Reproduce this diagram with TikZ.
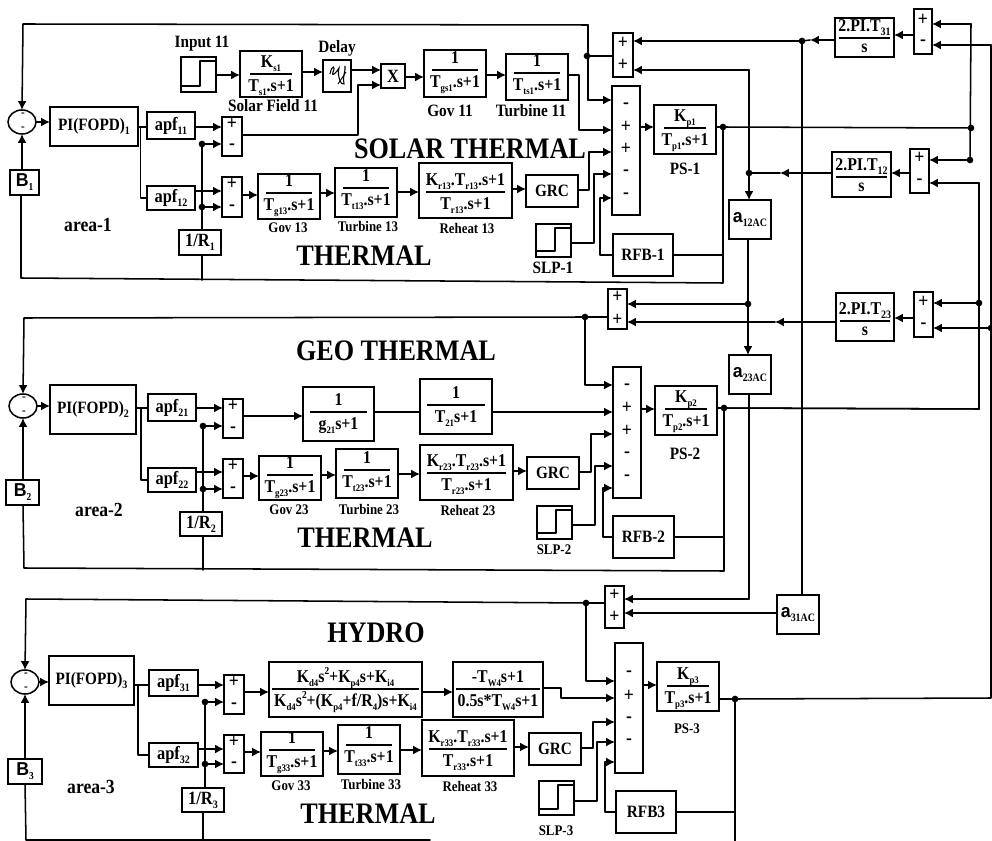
\documentclass[tikz,border=0pt]{standalone}
\usepackage{fontspec}
\setmainfont[FakeStretch=0.88]{Liberation Serif}
\newfontfamily\sansb[FakeStretch=0.95]{Liberation Sans}
\usetikzlibrary{arrows.meta,calc,shapes.geometric}
\newcommand\fsz[1]{\fontsize{#1}{#1}\selectfont}
\newcommand\lo[2][7.5]{\lower.22em\hbox{\fsz{#1}#2}}
\newcommand\hi[1]{\raise.42em\hbox{\fsz{8}#1}}
\tikzset{
  wire/.style={line width=1.15pt,line cap=round,line join=round},
  arr/.style={wire,-{Latex[length=6.6pt,width=6.6pt]}},
  blk/.style={draw,line width=1.15pt,rectangle,inner sep=0pt,outer sep=0pt,fill=white,align=center,font=\bfseries\fsz{13}},
  ftxt/.style={inner sep=0pt,outer sep=0pt,font=\bfseries\fsz{13.5}},
  sgn/.style={inner sep=0pt,outer sep=0pt,font=\bfseries\fsz{15}},
  csgn/.style={inner sep=0pt,outer sep=0pt,font=\bfseries\fsz{9.5}},
  lab/.style={inner sep=0pt,outer sep=0pt,font=\bfseries\fsz{11}},
  labb/.style={inner sep=0pt,outer sep=0pt,font=\bfseries\fsz{13}},
  area/.style={inner sep=0pt,outer sep=0pt,font=\bfseries\fsz{15}},
  head/.style={inner sep=0pt,outer sep=0pt,font=\bfseries\fsz{22.3}},
  dot/.style={circle,fill=black,inner sep=0pt,minimum size=5pt,outer sep=0pt},
  sumc/.style={draw,ellipse,line width=1.15pt,inner sep=0pt,outer sep=0pt,minimum width=21pt,minimum height=18pt},
}
% name x1 y1 x2 y2 text
\newcommand\bx[6]{\node[blk,minimum width={(#4-#2)*0.75pt},minimum height={(#5-#3)*0.75pt}] (#1) at ({(#2+#4)/2},{(#3+#5)/2}) {#6};}
% [inset] name x1 y1 x2 y2 ruley num den
\newcommand\fr[8][8]{\node[blk,minimum width={(#5-#3)*0.75pt},minimum height={(#6-#4)*0.75pt}] (#2) at ({(#3+#5)/2},{(#4+#6)/2}) {};
  \draw[line width=1.15pt] ({#3+#1},#7) -- ({#5-#1},#7);
  \node[ftxt,anchor=base] (#2n) at ({(#3+#5)/2},{#7-6.5}) {#8};
  \frden{#2}{#3}{#5}{#7}}
\newcommand\frden[5]{\node[ftxt,anchor=base] (#1d) at ({(#2+#3)/2},{#4+17.5}) {#5};}
% name x1 y1 x2 y2 {y/sign,...}
\newcommand\sg[6]{\node[blk,minimum width={(#4-#2)*0.75pt},minimum height={(#5-#3)*0.75pt}] (#1) at ({(#2+#4)/2},{(#3+#5)/2}) {};
  \foreach \yy/\ss in {#6} {\node[sgn] (#1s\yy) at ({(#2+#4)/2},\yy) {\ss};}}
% name x1 y1 x2 y2
\newcommand\stp[5]{\node[blk,minimum width={(#4-#2)*0.75pt},minimum height={(#5-#3)*0.75pt}] (#1) at ({(#2+#4)/2},{(#3+#5)/2}) {};
  \draw[line width=1.15pt,line join=round] (#2,{#5-6}) -| ({#2+19},{#3+4}) -- (#4,{#3+4});}
\begin{document}
\begin{tikzpicture}[x=0.75pt,y=-0.75pt]
\useasboundingbox (0,0) rectangle (992,841);
%%%%%%%%%% headings
\node[head] (hsolar) at (470,149) {SOLAR THERMAL};
\node[head] (hth1) at (364,256) {THERMAL};
\node[head] (hgeo) at (396,351) {GEO THERMAL};
\node[head] (hth2) at (365,538) {THERMAL};
\node[head] (hhyd) at (376,633) {HYDRO};
\node[head] (hth3) at (368,814) {THERMAL};
\node[area] (a1) at (88,225) {area-1};
\node[area] (a2) at (99,510) {area-2};
\node[area] (a3) at (91,787) {area-3};
%%%%%%%%%% AREA 1
\node[sumc] (c1) at (22,122) {};
\node[csgn] (c1a) at (23,115) {-};
\node[csgn] (c1b) at (23,129) {-};
\bx{B1}{10}{170}{39}{195}{\sansb\fsz{14}B\lo[8]{\rmfamily 1}}
\bx{PI1}{50}{107}{138}{146}{PI(FOPD)\lo[8.5]{1}}
\bx{apf11}{147}{112}{195}{139}{\fsz{14}apf\lo[8.5]{11}}
\bx{apf12}{147}{186}{195}{210}{\fsz{14}apf\lo[8.5]{12}}
\sg{s11}{222}{117}{242}{156}{124/+,147/-}
\sg{s12}{222}{177}{242}{217}{184/+,208/-}
\bx{R1}{179}{230}{221}{255}{\fsz{14}1/R\lo[8.5]{1}}
\stp{in11}{181}{57}{216}{92}
\node[labb] (lin11) at (202,44) {Input 11};
\fr[10]{sf11}{240}{51}{302}{97}{74}{K\lo{s1}}{T\lo{s1}.s+1}
\node[labb] (lsf) at (273,106) {Solar Field 11};
\bx{dly}{323}{60}{351}{92}{}
\draw[line width=.8pt] (330,74) .. controls (332,64) and (336,66) .. (333,72) .. controls (331,78) and (337,72) .. (339,68) .. controls (337,76) and (341,86) .. (344,84) .. controls (342,78) and (346,70) .. (345,66);
\draw[line width=.7pt] (338,84) -- (346,72);
\node[labb] (ldly) at (337,48) {Delay};
\bx{X1}{381}{64}{405}{88}{\fsz{14}X}
\fr{g11}{424}{50}{486}{97}{70}{1}{T\lo{gs1}.s+1}
\node[labb] (lg11) at (450,111) {Gov 11};
\fr{t11}{506}{54}{568}{100}{73}{1}{T\lo{ts1}.s+1}
\node[labb] (lt11) at (531,111) {Turbine 11};
\fr{g13}{258}{174}{320}{219}{193}{1}{T\lo{g13}.s+1}
\node[lab] (lg13) at (288,228) {Gov 13};
\fr{t13}{335}{168}{397}{217}{188}{1}{T\lo{t13}.s+1}
\node[lab] (lt13) at (368,227) {Turbine 13};
\fr[7]{r13}{419}{163}{512}{218}{192}{K\lo{r13}.T\lo{r13}.s+1}{T\lo{r13}.s+1}
\node[lab] (lr13) at (467,228) {Reheat 13};
\bx{grc1}{526}{175}{578}{207}{GRC}
\stp{slp1}{536}{224}{571}{257}
\node[labb] (lslp1) at (553,268) {SLP-1};
\bx{rfb1}{613}{234}{673}{276}{RFB-1}
\sg{m1}{612}{86}{640}{215}{106/-,127/+,149/+,173/-,196/-}
\fr[10]{ps1}{654}{105}{716}{154}{128}{K\lo{p1}}{T\lo{p1}.s+1}
\node[labb] (lps1) at (685,169) {PS-1};
\sg{pp1}{613}{33}{633}{77}{43/+,65/+}
\fr[4]{tie31}{835}{18}{894}{57}{38}{2.PI.T\lo[8.5]{31}}{\raise2.5pt\hbox{s}}
\sg{s31}{914}{9}{932}{54}{20/+,43/-}
\fr[4]{tie12}{832}{152}{891}{197}{177}{2.PI.T\lo[8.5]{12}}{\raise2.5pt\hbox{s}}
\sg{s1t}{910}{149}{929}{193}{158/+,182/-}
\bx{a12}{729}{200}{771}{239}{{\sansb\fsz{14}a}\lo[8.5]{12AC}}
%%%%%%%%%% AREA 2
\node[sumc] (c2) at (23,406) {};
\node[csgn] (c2a) at (24,399) {-};
\node[csgn] (c2b) at (24,413) {-};
\bx{B2}{6}{480}{39}{505}{\sansb\fsz{14}B\lo[8]{\rmfamily 2}}
\bx{PI2}{50}{385}{136}{434}{PI(FOPD)\lo[8.5]{2}}
\bx{apf21}{148}{394}{196}{421}{\fsz{14}apf\lo[8.5]{21}}
\bx{apf22}{148}{468}{196}{492}{\fsz{14}apf\lo[8.5]{22}}
\sg{s21}{223}{399}{243}{438}{406/+,430/-}
\sg{s22}{223}{459}{243}{498}{466/+,490/-}
\bx{R2}{180}{512}{222}{536}{\fsz{14}1/R\lo[8.5]{2}}
\fr[7]{g21}{303}{387}{374}{441}{412}{1}{g\lo{21}s+1}
\fr[7]{t21}{420}{379}{492}{434}{405}{1}{T\lo{21}s+1}
\fr{g23}{259}{456}{321}{500}{475}{1}{T\lo{g23}.s+1}
\node[lab] (lg23) at (289,510) {Gov 23};
\fr{t23}{336}{449}{398}{498}{470}{1}{T\lo{t23}.s+1}
\node[lab] (lt23) at (369,509) {Turbine 23};
\fr[7]{r23}{420}{445}{513}{500}{473}{K\lo{r23}.T\lo{r23}.s+1}{T\lo{r23}.s+1}
\node[lab] (lr23) at (468,510) {Reheat 23};
\bx{grc2}{527}{457}{579}{489}{GRC}
\stp{slp2}{537}{506}{572}{539}
\node[lab] (lslp2) at (554,550) {SLP-2};
\bx{rfb2}{613}{516}{674}{558}{RFB-2}
\sg{m2}{613}{367}{641}{498}{387/-,408/+,431/+,455/-,478/-}
\fr[10]{ps2}{655}{386}{717}{435}{409}{K\lo{p2}}{T\lo{p2}.s+1}
\node[labb] (lps2) at (685,454) {PS-2};
\sg{pp2}{608}{289}{627}{329}{297/+,320/+}
\fr[4]{tie23}{836}{293}{894}{341}{321}{2.PI.T\lo[8.5]{23}}{\raise2.5pt\hbox{s}}
\sg{s23}{914}{292}{933}{337}{302/+,326/-}
\bx{a23}{729}{355}{771}{394}{{\sansb\fsz{14}a}\lo[8.5]{23AC}}
%%%%%%%%%% AREA 3
\node[sumc] (c3) at (25,682) {};
\node[csgn] (c3a) at (26,675) {-};
\node[csgn] (c3b) at (26,689) {-};
\bx{B3}{8}{759}{42}{784}{\sansb\fsz{14}B\lo[8]{\rmfamily 3}}
\bx{PI3}{49}{656}{134}{705}{PI(FOPD)\lo[8.5]{3}}
\bx{apf31}{149}{670}{198}{696}{\fsz{14}apf\lo[8.5]{31}}
\bx{apf32}{149}{743}{198}{767}{\fsz{14}apf\lo[8.5]{32}}
\sg{s31a}{224}{675}{244}{714}{682/+,706/-}
\sg{s32}{224}{735}{244}{773}{742/+,765/-}
\bx{R3}{182}{788}{224}{812}{\fsz{14}1/R\lo[8.5]{3}}
\fr[3]{pid}{269}{662}{422}{717}{689}{K\lo{d4}s\hi{2}+K\lo{p4}s+K\lo{i4}}{K\lo{d4}s\hi{2}+(K\lo{p4}+f/R\lo{4})s+K\lo{i4}}
\fr[3]{hyd}{453}{662}{543}{717}{689}{-T\lo{W4}s+1}{0.5s*T\lo{W4}s+1}
\fr{g33}{261}{732}{323}{776}{750}{1}{T\lo{g33}.s+1}
\node[lab] (lg33) at (291,786) {Gov 33};
\fr{t33}{338}{725}{400}{774}{745}{1}{T\lo{t33}.s+1}
\node[lab] (lt33) at (371,784) {Turbine 33};
\fr[7]{r33}{422}{720}{514}{776}{749}{K\lo{r33}.T\lo{r33}.s+1}{T\lo{r33}.s+1}
\node[lab] (lr33) at (470,786) {Reheat 33};
\bx{grc3}{529}{733}{581}{765}{GRC}
\stp{slp3}{539}{781}{574}{815}
\node[lab] (lslp3) at (556,831) {SLP-3};
\bx{rfb3}{616}{791}{676}{833}{RFB3}
\sg{m3}{615}{643}{643}{773}{674/-,696/+,720/-,742/-}
\fr[10]{ps3}{657}{662}{719}{711}{686}{K\lo{p3}}{T\lo{p3}.s+1}
\node[lab] (lps3) at (687,729) {PS-3};
\sg{pp3}{605}{586}{624}{628}{595/+,617/+}
\bx{a31}{777}{595}{819}{634}{{\sansb\fsz{14}a}\lo[8.5]{31AC}}
%%%%%%%%%% junctions
\foreach \n/\x/\y in {j1/202/144,j2/202/207,j3/587/56,j4/802/41,j5/749/173,j6/723/127,j7/971/128,j8/970/160,
  j9/979/303,j10/748/304,j11/585/317,j12/724/408,j13/991/328,j14/203/426,j15/203/489,
  j16/205/702,j17/205/764,j18/586/603,j19/735/699}
  {\node[dot] (\n) at (\x,\y) {};}
%%%%%%%%%% free ends
\coordinate (k1) at (140.5,127);
\coordinate (k2) at (141,408);
\coordinate (k3) at (138,685);
%%%%%%%%%% AREA 1 wires
\draw[arr] (588,100) -- (m1.west |- 0,100);
\draw[wire] (j3) -- (pp1.west |- j3);
\draw[wire] (588,100) -- (588,25);
\draw[arr] (588,25) -- (23,24) -- (c1.north);
\draw[arr] (c1.east) -- (PI1.west |- c1.east);
\draw[arr] (B1.north -| c1.south) -- (c1.south);
\draw[wire] (B1.south -| 21,0) -- (21,278) -- (723,283) -- (j6);
\draw[wire] (PI1.east |- k1) -- (apf11.west |- k1);
\draw[wire] (k1) -- (k1 |- apf12.west) -- (apf12.west);
\draw[arr] (apf11.east |- 0,127) -- (s11.west |- 0,127);
\draw[arr] (apf12.east |- 0,191) -- (s12.west |- 0,191);
\draw[arr] (j1) -- (s11.west |- j1);
\draw[arr] (j2) -- (s12.west |- j2);
\draw[wire] (j1) -- (R1.north -| j1);
\draw[wire] (R1.south -| j1) -- (202,280);
\draw[arr] (in11.east |- 0,75) -- (sf11.west |- 0,75);
\draw[arr] (sf11.east |- 0,72) -- (dly.west |- 0,72);
\draw[arr] (dly.east |- 0,70) -- (X1.west |- 0,70);
\draw[arr] (s11.east |- 0,135) -- (358,135) -- (358,85) -- (X1.west |- 0,85);
\draw[arr] (X1.east |- 0,77) -- (g11.west |- 0,77);
\draw[arr] (g11.east |- 0,75) -- (t11.west |- 0,75);
\draw[arr] (t11.east |- 0,75) -- (579,75) -- (579,130) -- (m1.west |- 0,130);
\draw[arr] (s12.east |- 0,195) -- (g13.west |- 0,195);
\draw[arr] (g13.east |- 0,193) -- (t13.west |- 0,193);
\draw[arr] (t13.east |- 0,192) -- (r13.west |- 0,192);
\draw[arr] (r13.east |- 0,189) -- (grc1.west |- 0,189);
\draw[arr] (grc1.east |- 0,190) -- (589,190) -- (589,152) -- (m1.west |- 0,152);
\draw[arr] (slp1.east |- 0,243) -- (594,243) -- (594,174) -- (m1.west |- 0,174);
\draw[arr] (rfb1.west) -- (600,255) -- (600,198) -- (m1.west |- 0,198);
\draw[wire] (rfb1.east) -- (723,255);
\draw[arr] (m1.east |- 0,127) -- (ps1.west |- 0,127);
\draw[wire] (ps1.east |- j6) -- (j6) -- (j7);
%% ties
\coordinate (t31m) at (810,40);
\draw[arr] (tie31.west |- t31m) -- (t31m);
\draw[wire] (t31m) -- (j4);
\draw[arr] (j4) -- (pp1.east |- j4);
\draw[arr] (s31.west |- 0,35) -- (tie31.east |- 0,35);
\draw[arr] (j7 |- 0,24) -- (s31.east |- 0,24);
\draw[wire] (j7 |- 0,24) -- (j8);
\draw[arr] (991,45) -- (s31.east |- 0,45);
\draw[arr] (j8) -- (s1t.east |- j8);
\draw[arr] (979,183) -- (s1t.east |- 0,183);
\draw[wire] (979,183) -- (979,409) -- (j12);
\draw[arr] (s1t.west |- 0,173) -- (tie12.east |- 0,173);
\coordinate (t12m) at (780,173);
\draw[arr] (tie12.west |- j5) -- (t12m);
\draw[wire] (t12m) -- (j5);
\draw[arr] (j5) -- (a12.north -| j5);
\draw[wire] (j5) -- (749,70);
\draw[arr] (749,70) -- (pp1.east |- 0,70);
\draw[wire] (a12.south -| j10) -- (j10);
\draw[arr] (j10) -- (a23.north -| j10);
\draw[wire] (j4) -- (a31.north -| j4);
%%%%%%%%%% AREA 2 wires
\draw[arr] (j10) -- (pp2.east |- j10);
\coordinate (t23m) at (775,322);
\draw[arr] (tie23.west |- t23m) -- (t23m);
\draw[arr] (t23m) -- (pp2.east |- t23m);
\draw[arr] (s23.west |- 0,318) -- (tie23.east |- 0,318);
\draw[arr] (j9) -- (s23.east |- j9);
\draw[arr] (j13) -- (s23.east |- j13);
\draw[wire] (pp2.west |- j11) -- (j11);
\draw[arr] (j11) -- (24,318) -- (c2.north);
\draw[arr] (j11) -- (585,385) -- (m2.west |- 0,385);
\draw[arr] (c2.east) -- (PI2.west |- c2.east);
\draw[arr] (B2.north -| c2.south) -- (c2.south);
\draw[wire] (B2.south -| c2.south) -- (24,568) -- (724,571) -- (j12);
\draw[wire] (PI2.east |- k2) -- (apf21.west |- k2);
\draw[wire] (k2) -- (k2 |- apf22.west) -- (apf22.west);
\draw[arr] (apf21.east |- 0,408) -- (s21.west |- 0,408);
\draw[arr] (j14) -- (s21.west |- j14);
\draw[arr] (apf22.east |- 0,472) -- (s22.west |- 0,472);
\draw[arr] (j15) -- (s22.west |- j15);
\draw[wire] (j14) -- (R2.north -| j14);
\draw[wire] (R2.south -| j14) -- (203,570);
\draw[arr] (s21.east |- 0,416) -- (g21.west |- 0,416);
\draw[wire] (g21.east |- 0,412) -- (t21.west |- 0,412);
\draw[arr] (t21.east |- 0,412) -- (m2.west |- 0,412);
\draw[arr] (s22.east |- 0,476) -- (g23.west |- 0,476);
\draw[arr] (g23.east |- 0,475) -- (t23.west |- 0,475);
\draw[arr] (t23.east |- 0,474) -- (r23.west |- 0,474);
\draw[arr] (r23.east |- 0,471) -- (grc2.west |- 0,471);
\draw[arr] (grc2.east |- 0,472) -- (591,472) -- (591,434) -- (m2.west |- 0,434);
\draw[arr] (slp2.east |- 0,525) -- (595,525) -- (595,466) -- (m2.west |- 0,466);
\draw[arr] (rfb2.west) -- (603,537) -- (603,488) -- (m2.west |- 0,488);
\draw[wire] (rfb2.east) -- (724,537);
\draw[arr] (m2.east |- 0,409) -- (ps2.west |- 0,409);
\draw[wire] (ps2.east |- j12) -- (j12) -- (979,409);
%%%%%%%%%% AREA 3 wires
\draw[wire] (a23.south -| 749,0) -- (749,599);
\draw[arr] (749,599) -- (pp3.east |- 0,599);
\draw[arr] (a31.west |- 0,613) -- (pp3.east |- 0,613);
\draw[wire] (pp3.west |- j18) -- (j18);
\draw[arr] (j18) -- (26,599) -- (c3.north);
\draw[arr] (j18) -- (586,681) -- (m3.west |- 0,681);
\draw[arr] (c3.east) -- (PI3.west |- c3.east);
\draw[arr] (B3.north -| c3.south) -- (c3.south);
\draw[wire] (B3.south -| c3.south) -- (26,840) -- (430,840);
\draw[wire] (PI3.east |- k3) -- (apf31.west |- k3);
\draw[wire] (k3) -- (k3 |- apf32.west) -- (apf32.west);
\draw[arr] (apf31.east |- 0,685) -- (s31a.west |- 0,685);
\draw[arr] (j16) -- (s31a.west |- j16);
\draw[arr] (apf32.east |- 0,749) -- (s32.west |- 0,749);
\draw[arr] (j17) -- (s32.west |- j17);
\draw[wire] (j16) -- (R3.north -| j16);
\draw[wire] (R3.south -| 203,0) -- (203,840);
\draw[arr] (s31a.east |- 0,692) -- (pid.west |- 0,692);
\draw[arr] (pid.east |- 0,692) -- (hyd.west |- 0,692);
\draw[arr] (hyd.east |- 0,688) -- (561,688) -- (561,698) -- (m3.west |- 0,698);
\draw[arr] (s32.east |- 0,752) -- (g33.west |- 0,752);
\draw[arr] (g33.east |- 0,751) -- (t33.west |- 0,751);
\draw[arr] (t33.east |- 0,750) -- (r33.west |- 0,750);
\draw[arr] (r33.east |- 0,747) -- (grc3.west |- 0,747);
\draw[arr] (grc3.east |- 0,748) -- (593,748) -- (593,722) -- (m3.west |- 0,722);
\draw[arr] (slp3.east |- 0,801) -- (597,801) -- (597,742) -- (m3.west |- 0,742);
\draw[arr] (rfb3.west) -- (605,812) -- (605,762) -- (m3.west |- 0,762);
\draw[wire] (rfb3.east) -- (735,812);
\draw[arr] (m3.east |- 0,685) -- (ps3.west |- 0,685);
\draw[wire] (ps3.east |- j19) -- (j19) -- (991,698) -- (991,45);
\draw[wire] (j19) -- (735,841);
\end{tikzpicture}
\end{document}
